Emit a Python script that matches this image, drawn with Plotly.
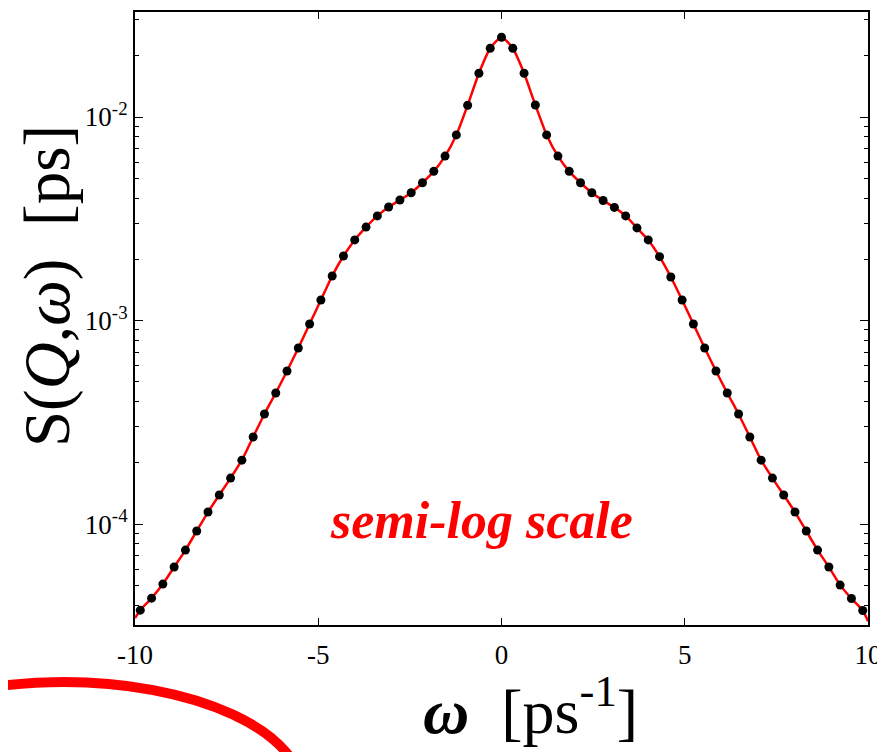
import plotly.graph_objects as go

# omega grid of the measured points (ps^-1)
omega = [round(k * 0.308, 3) for k in range(-32, 33)]

# log10 S(Q,w), left half (k=-32..0)
log_left = [-4.423, -4.364, -4.295, -4.211, -4.128, -4.034, -3.941, -3.857,
            -3.774, -3.686, -3.572, -3.459, -3.356, -3.248, -3.135, -3.017,
            -2.899, -2.781, -2.683, -2.604, -2.541, -2.486, -2.442, -2.408,
            -2.372, -2.323, -2.267, -2.192, -2.088, -1.942, -1.785, -1.662,
            -1.608]
# right half (k=1..32)
log_right = [-1.662, -1.785, -1.941, -2.088, -2.192, -2.267, -2.323, -2.372,
             -2.410, -2.444, -2.486, -2.545, -2.604, -2.686, -2.786, -2.899,
             -3.017, -3.135, -3.248, -3.356, -3.459, -3.572, -3.686, -3.774,
             -3.857, -3.941, -4.034, -4.128, -4.211, -4.300, -4.366, -4.425]

s_points = [10 ** v for v in log_left + log_right]

# fitted curve: same points plus its ends at the frame edges
fit_omega = [-10.0] + omega + [10.0]
fit_s = [10 ** -4.462] + s_points + [10 ** -4.477]

x_ticks = [-10, -5, 0, 5, 10]
y_ticks = [1e-4, 1e-3, 1e-2]
y_ticktext = ["10<sup>-4</sup>", "10<sup>-3</sup>", "10<sup>-2</sup>"]
y_minor = [m * 10 ** e for e in (-5, -4, -3, -2) for m in range(2, 10)]

FONT = "Times New Roman, Liberation Serif, serif"

fig = go.Figure()
fig.add_trace(go.Scatter(x=fit_omega, y=fit_s, mode="lines",
                         line=dict(color="#ff0000", width=2.5, shape="spline", smoothing=0.6),
                         showlegend=False, hoverinfo="skip"))
fig.add_trace(go.Scatter(x=omega, y=s_points, mode="markers",
                         marker=dict(color="black", size=9),
                         showlegend=False))

fig.update_layout(
    width=885, height=752,
    margin=dict(l=127, r=25, t=4, b=135, autoexpand=False),
    paper_bgcolor="white", plot_bgcolor="white",
    font=dict(family=FONT, color="black"),
    xaxis=dict(range=[-10, 10], tickvals=x_ticks, ticktext=[str(v) for v in x_ticks],
               ticks="inside", ticklen=7, tickwidth=1, tickcolor="black",
               showline=True, linecolor="black", linewidth=2, mirror="allticks",
               showgrid=False, zeroline=False, automargin=False,
               ticklabelstandoff=5,
               tickfont=dict(family=FONT, size=27)),
    yaxis=dict(type="log", range=[-4.496, -1.484], tickvals=y_ticks, ticktext=y_ticktext,
               ticks="inside", ticklen=8, tickwidth=1, tickcolor="black",
               minor=dict(tickvals=y_minor, ticks="inside", ticklen=4, tickcolor="black", showgrid=False),
               showline=True, linecolor="black", linewidth=2, mirror="allticks",
               showgrid=False, zeroline=False, automargin=False,
               tickfont=dict(family=FONT, size=27)),
)

# axis titles
fig.add_annotation(text="<b><i>ω</i></b>\u00a0\u00a0[ps<sup>-1</sup>]", x=0.540, y=-0.133,
                   xref="paper", yref="paper", showarrow=False,
                   xanchor="center", yanchor="middle",
                   font=dict(family=FONT, size=64, color="black"))
fig.add_annotation(text="S(<i>Q</i>,<i>ω</i>)\u00a0\u00a0[ps]", x=-0.120, y=0.553,
                   xref="paper", yref="paper", showarrow=False, textangle=-90,
                   xanchor="center", yanchor="middle",
                   font=dict(family=FONT, size=65, color="black"))

fig.add_annotation(text="<b><i>semi-log scale</i></b>", x=0.473, y=0.121,
                   xref="paper", yref="paper", showarrow=False,
                   font=dict(family=FONT, size=52, color="#ff0000"))

# thick red ellipse partly visible in the lower-left corner
fig.add_shape(type="circle", xref="paper", yref="paper",
              x0=-0.4229, x1=0.229, y0=-0.455, y1=-0.093,
              line=dict(color="#ff0000", width=10))

fig.write_html("out.html")
